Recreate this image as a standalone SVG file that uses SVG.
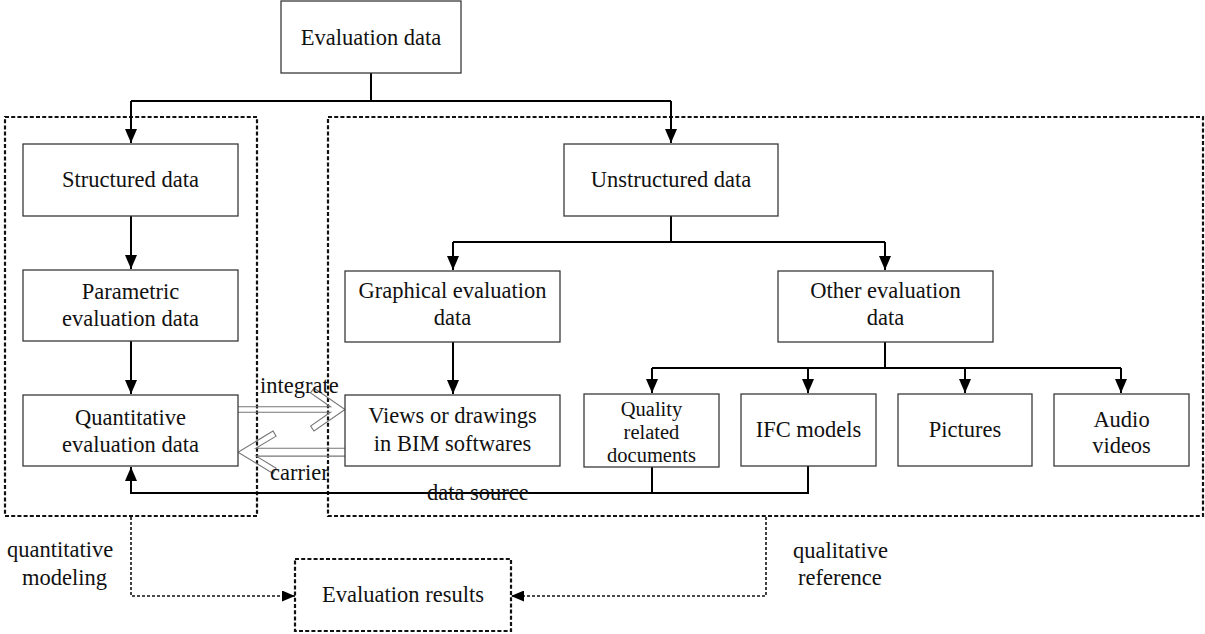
<svg xmlns="http://www.w3.org/2000/svg" width="1205" height="634" viewBox="0 0 1205 634">
  <style>
    .box { fill: #ffffff; stroke: #3a3a3a; stroke-width: 1.3; }
    .lbl { font-family: "Liberation Serif", "DejaVu Serif", serif; font-size: 22.5px; fill: #111; text-anchor: middle; }
    .tag { font-family: "Liberation Serif", "DejaVu Serif", serif; font-size: 22.5px; fill: #111; }
    .tight { font-size: 20.5px; }
    .line { fill: none; stroke: #000; stroke-width: 2; }
    .arr { fill: none; stroke: #000; stroke-width: 2; marker-end: url(#head); }
    .group { fill: none; stroke: #111; stroke-width: 2.2; stroke-dasharray: 4 2.2; }
    .flow { fill: none; stroke: #111; stroke-width: 1.6; stroke-dasharray: 3 2; marker-end: url(#headSmall); }
    .hollow { fill: none; stroke: #777; stroke-width: 1.1; }
  </style>
  <defs>
    <marker id="head" markerUnits="userSpaceOnUse" markerWidth="14" markerHeight="12" viewBox="0 0 14 12" refX="14" refY="6" orient="auto">
      <path d="M0,0 L14,6 L0,12 z" fill="#000"/>
    </marker>
    <marker id="headSmall" markerUnits="userSpaceOnUse" markerWidth="13" markerHeight="11" viewBox="0 0 13 11" refX="13" refY="5.5" orient="auto">
      <path d="M0,0 L13,5.5 L0,11 z" fill="#000"/>
    </marker>
  </defs>

  <!-- dashed grouping frames -->
  <g id="frames">
    <rect class="group" x="5" y="117" width="252" height="399"/>
    <rect class="group" x="328" y="117" width="875" height="399"/>
  </g>

  <!-- connectors -->
  <g id="connectors">
    <path class="line" d="M371,73 V101 M131,101 H671"/>
    <path class="arr" d="M131,101 V143"/>
    <path class="arr" d="M671,101 V143"/>
    <path class="arr" d="M131,216 V269"/>
    <path class="arr" d="M131,341 V394"/>
    <path class="line" d="M671,216 V242 M453,242 H885"/>
    <path class="arr" d="M453,242 V270"/>
    <path class="arr" d="M885,242 V270"/>
    <path class="arr" d="M453,342 V394"/>
    <path class="line" d="M885,342 V368 M652,368 H1121"/>
    <path class="arr" d="M652,368 V393"/>
    <path class="arr" d="M808,368 V393"/>
    <path class="arr" d="M965,368 V393"/>
    <path class="arr" d="M1121,368 V393"/>
    <path class="line" d="M808,466 V493 H652"/>
    <path class="arr" d="M652,467 V493 H131 V467"/>
    <text class="tag" x="427" y="500">data source</text>

    <!-- hollow arrow: integrate -->
    <path class="hollow" d="M238,406.7 H330.5 L310.6,392.9 L314,388 L345,409.5 L314,431 L310.6,426.1 L330.5,412.3 H238"/>
    <text class="tag" x="260" y="393">integrate</text>
    <!-- hollow arrow: carrier -->
    <path class="hollow" d="M345,448.3 H255.8 L276.1,436.1 L273,431 L238,452.2 L273,473.4 L276.1,468.3 L256.3,456.1 H345"/>
    <text class="tag" x="270" y="480">carrier</text>

    <!-- dashed result flows -->
    <path class="flow" d="M131,517 V596 H295"/>
    <path class="flow" d="M766,517 V596 H511"/>
    <text class="tag" x="7" y="557">quantitative</text>
    <text class="tag" x="22" y="585">modeling</text>
    <text class="tag" x="793" y="558">qualitative</text>
    <text class="tag" x="798" y="585">reference</text>
  </g>

  <g id="n-evaluation">
    <rect class="box" x="281" y="1" width="180" height="72"/>
    <text class="lbl" x="371" y="45">Evaluation data</text>
  </g>
  <g id="n-structured">
    <rect class="box" x="23" y="144" width="215" height="72"/>
    <text class="lbl" x="130.5" y="187">Structured data</text>
  </g>
  <g id="n-parametric">
    <rect class="box" x="23" y="270" width="215" height="71"/>
    <text class="lbl" x="130.5" y="299">Parametric</text>
    <text class="lbl" x="130.5" y="326">evaluation data</text>
  </g>
  <g id="n-quantitative">
    <rect class="box" x="23" y="395" width="215" height="71"/>
    <text class="lbl" x="130.5" y="425">Quantitative</text>
    <text class="lbl" x="130.5" y="452">evaluation data</text>
  </g>
  <g id="n-unstructured">
    <rect class="box" x="564" y="144" width="214" height="72"/>
    <text class="lbl" x="671" y="187">Unstructured data</text>
  </g>
  <g id="n-graphical">
    <rect class="box" x="345" y="271" width="215" height="71"/>
    <text class="lbl" x="452.5" y="298">Graphical evaluation</text>
    <text class="lbl" x="452.5" y="325">data</text>
  </g>
  <g id="n-other">
    <rect class="box" x="778" y="271" width="215" height="71"/>
    <text class="lbl" x="885.5" y="298">Other evaluation</text>
    <text class="lbl" x="885.5" y="325">data</text>
  </g>
  <g id="n-views">
    <rect class="box" x="345" y="395" width="215" height="71"/>
    <text class="lbl" x="452.5" y="423">Views or drawings</text>
    <text class="lbl" x="452.5" y="451">in BIM softwares</text>
  </g>
  <g id="n-quality">
    <rect class="box" x="584" y="394" width="135" height="73"/>
    <text class="lbl tight" x="651.5" y="416">Quality</text>
    <text class="lbl tight" x="651.5" y="439">related</text>
    <text class="lbl tight" x="651.5" y="462">documents</text>
  </g>
  <g id="n-ifc">
    <rect class="box" x="741" y="394" width="135" height="72"/>
    <text class="lbl" x="808.5" y="437">IFC models</text>
  </g>
  <g id="n-pictures">
    <rect class="box" x="898" y="394" width="134" height="72"/>
    <text class="lbl" x="965" y="437">Pictures</text>
  </g>
  <g id="n-audio">
    <rect class="box" x="1054" y="394" width="135" height="72"/>
    <text class="lbl" x="1121.5" y="427">Audio</text>
    <text class="lbl" x="1121.5" y="453">videos</text>
  </g>
  <g id="n-results">
    <rect class="group" x="295" y="559" width="216" height="72"/>
    <text class="lbl" x="403" y="602">Evaluation results</text>
  </g>
</svg>
